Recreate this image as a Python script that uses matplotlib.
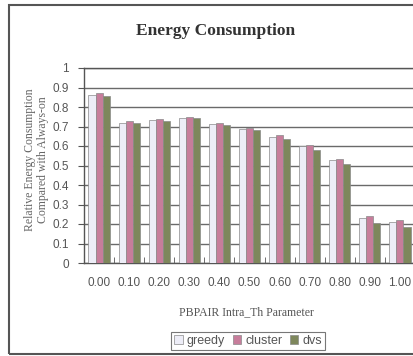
import matplotlib
matplotlib.use("Agg")
import matplotlib.pyplot as plt
import numpy as np
from matplotlib.patches import Rectangle

categories = ["0.00", "0.10", "0.20", "0.30", "0.40", "0.50", "0.60", "0.70", "0.80", "0.90", "1.00"]
greedy = [0.862, 0.720, 0.733, 0.744, 0.713, 0.687, 0.648, 0.600, 0.528, 0.232, 0.212]
cluster = [0.870, 0.727, 0.738, 0.749, 0.718, 0.692, 0.656, 0.603, 0.532, 0.241, 0.219]
dvs = [0.858, 0.716, 0.730, 0.742, 0.708, 0.682, 0.638, 0.579, 0.508, 0.207, 0.186]
series = [("greedy", greedy, "#ededf7"), ("cluster", cluster, "#c77d9b"), ("dvs", dvs, "#7e875c")]
yticks = [0, 0.1, 0.2, 0.3, 0.4, 0.5, 0.6, 0.7, 0.8, 0.9, 1]

plt.rcParams["font.family"] = ["Liberation Sans", "DejaVu Sans"]

W, H = 413, 356
fig = plt.figure(figsize=(W / 100, H / 100), dpi=100)
fig.patch.set_facecolor("white")

# outer frame (cropped on the right)
fig.patches.append(Rectangle((8.5 / W, 1 - 354 / H), 1.2, (354 - 5) / H,
                             transform=fig.transFigure, fill=False,
                             edgecolor="#555555", linewidth=1.5, zorder=0))

ax = fig.add_axes([84 / W, 1 - 263 / H, (415 - 84) / W, (263 - 68) / H])
x = np.arange(len(categories))
bw = 0.235
for i, (name, vals, col) in enumerate(series):
    ax.bar(x + (i - 1) * bw, vals, width=bw, color=col, edgecolor="#8a8a8a",
           linewidth=0.5, label=name, zorder=3)

ax.set_xlim(-0.5, len(categories) - 0.5)
ax.set_ylim(0, 1)
ax.set_yticks(yticks)
ax.set_yticklabels([f"{v:g}" for v in yticks])
ax.set_xticks(x)
ax.set_xticklabels(categories)
ax.set_xticks(np.arange(len(categories)) + 0.5, minor=True)
ax.tick_params(axis="x", which="major", length=0, pad=10, labelsize=8.5, labelcolor="#555555")
ax.tick_params(axis="x", which="minor", direction="in", length=4, color="#555555")
ax.tick_params(axis="y", length=4, direction="out", color="#555555", labelsize=8.5,
               labelcolor="#555555", pad=7)
ax.yaxis.grid(True, color="#6a6a6a", linewidth=1.0, zorder=1)
ax.set_axisbelow(True)
for s in ["left", "bottom", "top"]:
    ax.spines[s].set_color("#555555")
    ax.spines[s].set_linewidth(1.0)
ax.spines["right"].set_visible(False)

serif = ["Liberation Serif", "DejaVu Serif"]
fig.text(216 / W, 1 - 31 / H, "Energy Consumption", ha="center", va="center",
         fontsize=12.5, fontweight="bold", family=serif, color="#333333")
fig.text(36.5 / W, 1 - 160 / H, "Relative Energy Consumption\nCompared with Always-on",
         ha="center", va="center", rotation=90, fontsize=8.5, family=serif,
         color="#666666", linespacing=1.2)
fig.text(246 / W, 1 - 312 / H, "PBPAIR Intra_Th Parameter", ha="center", va="center",
         fontsize=8.5, family=serif, color="#555555")

leg = fig.legend(loc="center", bbox_to_anchor=(248 / W, 1 - 341 / H), ncol=3,
                 frameon=True, fancybox=False, fontsize=9, handlelength=0.7,
                 handleheight=0.7, handletextpad=0.3, columnspacing=0.6,
                 borderpad=0.25, edgecolor="#555555", labelcolor="#555555")
leg.get_frame().set_linewidth(0.8)

fig.savefig("out.png", dpi=100, facecolor="white")
